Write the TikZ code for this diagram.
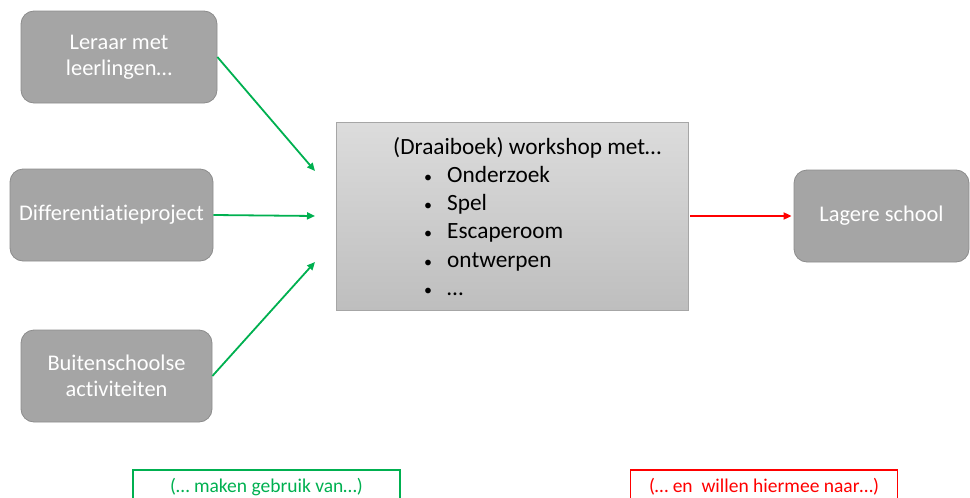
\documentclass[tikz,border=0pt]{standalone}
\usepackage{fontspec}
\setmainfont{Carlito}[Ligatures=NoCommon]
\usetikzlibrary{arrows.meta}
\definecolor{boxgray}{HTML}{A5A5A5}
\definecolor{boxedge}{HTML}{8C8C8C}
\definecolor{workedge}{HTML}{A6A6A6}
\definecolor{worktop}{HTML}{DCDCDC}
\definecolor{workbottom}{HTML}{BEBEBE}
\definecolor{flowgreen}{HTML}{00B050}
\definecolor{flowred}{HTML}{FF0000}
\newcommand{\wsitem}[1]{\hspace*{31pt}\makebox[23pt][l]{\fontsize{16}{16}\selectfont•}#1}
\begin{document}
\begin{tikzpicture}[x=1pt,y=-1pt,
  srcbox/.style={draw=boxedge, line width=0.8pt, fill=boxgray, rounded corners=13pt,
    text=white, font=\fontsize{22.4}{26}\selectfont, align=center, inner sep=0pt,
    minimum height=92pt},
  workbox/.style={draw=workedge, line width=0.8pt, top color=worktop, bottom color=workbottom,
    minimum width=352pt, minimum height=188pt, inner sep=0pt},
  greenflow/.style={draw=flowgreen, line width=1.8pt, -{Triangle[length=8pt,width=7pt]}},
  redflow/.style={draw=flowred, line width=1.8pt, -{Triangle[length=8pt,width=7pt]}},
  notebox/.style={draw=#1, line width=1.8pt, text=#1, minimum width=267pt, minimum height=34pt,
    inner sep=0pt, font=\fontsize{19.5}{22}\selectfont},
]
\useasboundingbox (0,0) rectangle (970,498);
\clip (0,0) rectangle (970,498);

% source boxes
\node[srcbox, minimum width=196pt] (leraar) at (119,57) {Leraar met\\leerlingen…};
\node[srcbox, minimum width=203pt] (diff) at (111.5,215) {Differentiatieproject};
\node[srcbox, minimum width=191pt] (buiten) at (116.5,376) {Buitenschoolse\\activiteiten};

% central workshop box
\node[workbox] (work) at (512,216) {};
\node[anchor=north west, inner sep=0pt, align=left, font=\fontsize{23.3}{28.2}\selectfont]
  (worktext) at (393,137)
  {(Draaiboek) workshop met…\\
   \wsitem{Onderzoek}\\
   \wsitem{Spel}\\
   \wsitem{Escaperoom}\\
   \wsitem{ontwerpen}\\
   \wsitem{…}};

% target box
\node[srcbox, minimum width=175pt] (lagere) at (881.5,216) {Lagere school};

% arrow end points in front of the workshop box
\coordinate (in1) at (315,171);
\coordinate (in2) at (315,216);
\coordinate (in3) at (315,262);

\draw[greenflow] (leraar.east) -- (in1);
\draw[greenflow] (diff.east) -- (in2);
\draw[greenflow] (buiten.east) -- (in3);
\draw[redflow] ([xshift=2pt]work.east) -- ([xshift=-2pt]lagere.west);

% captions
\node[notebox=flowgreen, anchor=north] (usecap) at (266.5,469) {(… maken gebruik van…)};
\node[notebox=flowred, anchor=north] (goalcap) at (764,469) {(… en\ \ willen hiermee naar…)};
\end{tikzpicture}
\end{document}
